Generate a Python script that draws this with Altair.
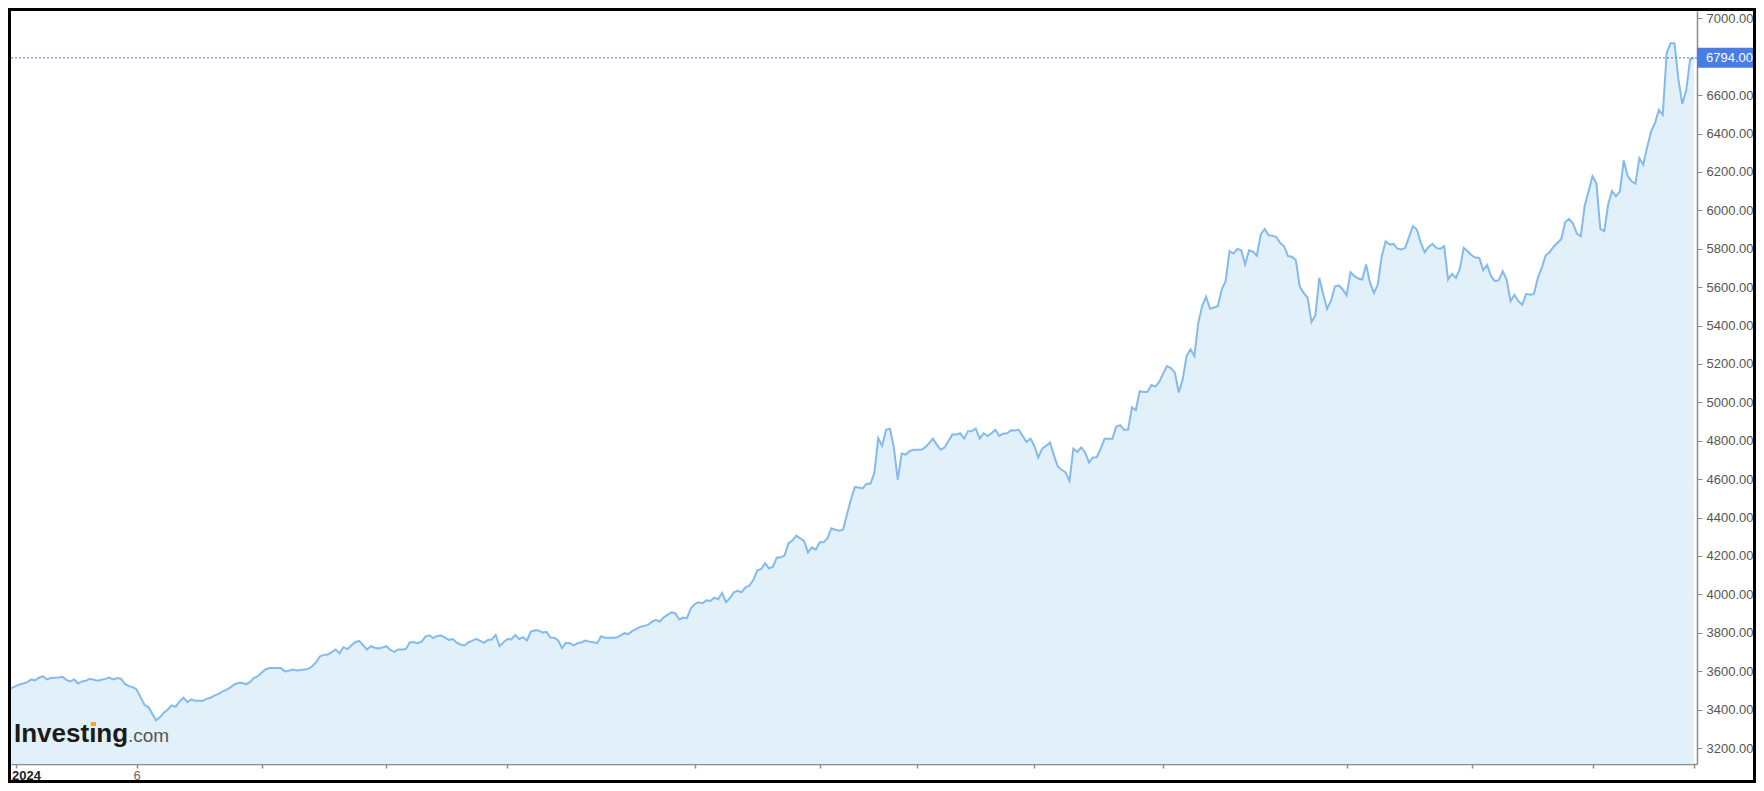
import altair as alt
import pandas as pd

# ---- data (one value per trading step) ----
seg1 = [3521, 3517, 3514, 3512, 3522, 3531, 3536, 3543, 3557, 3552,
        3566, 3574, 3557, 3564, 3566, 3567, 3571, 3555, 3547, 3557,
        3536, 3547, 3550, 3560, 3555, 3550, 3555, 3560, 3567, 3557,
        3564, 3560, 3534, 3522, 3517, 3505, 3465, 3425, 3413, 3379,
        3344, 3361, 3384, 3401, 3422, 3415, 3443, 3462, 3439, 3453,
        3446, 3446, 3446, 3457, 3462, 3474, 3482, 3495, 3503, 3515,
        3531, 3538, 3540, 3531, 3543, 3564, 3573, 3592, 3609, 3616,
        3616, 3616, 3616, 3599, 3602, 3609, 3604, 3606, 3609, 3612,
        3626, 3647, 3678, 3685, 3687, 3699]
seg2 = [3713, 3694, 3725, 3715, 3734, 3751, 3758, 3737, 3713, 3730,
        3722, 3718, 3723, 3730, 3711, 3701, 3713, 3713, 3715, 3751,
        3751, 3746, 3754, 3780, 3787, 3772, 3784, 3786, 3775, 3763,
        3767, 3748, 3739, 3734, 3751, 3758, 3768, 3758, 3748, 3763,
        3765, 3789, 3730, 3751, 3768, 3765, 3789, 3768, 3777, 3760,
        3806, 3813, 3812, 3801, 3805, 3775, 3774, 3760, 3720, 3748,
        3746, 3734, 3746, 3751, 3760, 3754, 3751, 3746, 3782, 3774,
        3774, 3774, 3775, 3786, 3798, 3793, 3810, 3819, 3831, 3836,
        3841, 3857, 3867, 3858, 3879, 3893, 3907]
seg3 = [3902, 3869, 3879, 3876, 3928, 3950, 3959, 3954, 3969, 3966,
        3983, 3975, 4008, 3959, 3980, 4011, 4018, 4011, 4037, 4046,
        4075, 4124, 4132, 4162, 4136, 4143, 4191, 4193, 4202, 4266,
        4280, 4306, 4292, 4278, 4219, 4245, 4233, 4271, 4271, 4292,
        4344, 4337, 4332, 4337, 4418, 4493, 4559, 4557, 4552, 4576,
        4576, 4631, 4813, 4773, 4857, 4863, 4765, 4597, 4734, 4728,
        4746, 4753, 4753, 4753, 4765, 4786, 4811, 4780, 4753, 4765,
        4799, 4832, 4832, 4839, 4811, 4850, 4851, 4863, 4811, 4839,
        4825, 4839, 4857, 4825, 4837, 4839, 4855]
seg4 = [4853, 4857, 4825, 4794, 4811, 4773, 4713, 4759, 4773, 4791,
        4725, 4666, 4649, 4635, 4591, 4759, 4742, 4765, 4739, 4687,
        4713, 4714, 4759, 4811, 4811, 4811, 4874, 4881, 4857, 4857,
        4974, 4960, 5058, 5054, 5054, 5090, 5082, 5106, 5151, 5189,
        5179, 5155, 5051, 5120, 5241, 5276, 5241, 5414, 5501, 5550,
        5487, 5494, 5501, 5588, 5631, 5787, 5775, 5799, 5792, 5718,
        5792, 5785, 5764, 5874, 5903, 5870, 5868, 5861, 5830, 5813,
        5761, 5758, 5740, 5602, 5570, 5546, 5418, 5453, 5648, 5563,
        5487, 5529, 5603, 5609, 5588, 5557, 5678, 5657, 5645]
seg5 = [5640, 5718, 5622, 5570, 5614, 5761, 5839, 5822, 5825, 5801,
        5796, 5804, 5862, 5917, 5900, 5830, 5782, 5809, 5825, 5804,
        5799, 5813, 5640, 5669, 5648, 5695, 5804, 5787, 5766, 5754,
        5752, 5688, 5716, 5657, 5631, 5636, 5683, 5640, 5527, 5560,
        5527, 5508, 5565, 5560, 5565, 5648, 5700, 5765, 5782, 5809,
        5830, 5851, 5939, 5955, 5931, 5879, 5865, 6024, 6099, 6177,
        6139, 5903, 5891, 6030, 6101, 6073, 6097, 6260, 6180, 6151,
        6139, 6272, 6237, 6329, 6411, 6454, 6523, 6497, 6818, 6870,
        6870, 6683, 6555, 6624, 6787, 6794]

tick_idx = [4, 35, 67, 99, 130, 178, 210, 235, 265, 298, 345, 377, 408, 434]
tick_labels = ["2024", "6", "", "", "", "", "", "", "", "", "", "", "", ""]
y_ticks = [3200, 3400, 3600, 3800, 4000, 4200, 4400, 4600, 4800, 5000,
           5200, 5400, 5600, 5800, 6000, 6200, 6400, 6600, 7000]
last_value = 6794.0

price = seg1 + seg2 + seg3 + seg4 + seg5
df = pd.DataFrame({"i": list(range(len(price))), "price": price})
one = pd.DataFrame({"a": [0]})

W, H = 1686, 753
PAD = {"left": 3, "top": 3, "right": 59, "bottom": 19}
FONT = "Liberation Sans"
LINE = "#84baee"
FILL = "#e1f0f9"
BLUE = "#4a7ce6"
AXIS = "#8c8c8c"

x_scale = alt.Scale(domain=[2.818, 434.77], nice=False, zero=False)
y_scale = alt.Scale(domain=[3116.7, 7038.0], nice=False, zero=False)

expr_parts = [f"datum.value == {v} ? '{t}'" for v, t in zip(tick_idx, tick_labels) if t]
label_expr = " : ".join(expr_parts) + " : ''"
first = f"datum.value == {tick_idx[0]}"

x_axis = alt.Axis(
    values=tick_idx, labelExpr=label_expr, title="", grid=False,
    domainColor=AXIS, domainWidth=1.5, tickColor=AXIS, tickSize=4, tickWidth=1.5,
    labelFont=FONT, labelFontSize=13, labelPadding=1, labelFlush=False,
    labelOverlap=False,
    labelAlign={"condition": {"test": first, "value": "left"}, "value": "center"},
    labelOffset={"condition": {"test": first, "value": -4}, "value": 0},
    labelColor={"condition": {"test": first, "value": "#222222"}, "value": "#666666"},
    labelFontWeight={"condition": {"test": first, "value": "bold"}, "value": "normal"},
)
y_axis = alt.Axis(
    orient="right", values=y_ticks, format=".2f", title="", grid=False,
    domainColor=AXIS, domainWidth=1.5, tickColor=AXIS, tickSize=5,
    labelFont=FONT, labelFontSize=13, labelColor="#555555", labelPadding=4,
    labelFlush=False, labelOverlap=False,
)

area = alt.Chart(df).mark_area(color=FILL, clip=True).encode(
    x=alt.X("i:Q", scale=x_scale, axis=x_axis),
    y=alt.Y("price:Q", scale=y_scale, axis=y_axis),
)
line = alt.Chart(df).mark_line(color=LINE, strokeWidth=2, clip=True).encode(
    x="i:Q", y="price:Q"
)
rule = alt.Chart(one).mark_rule(color=BLUE, strokeDash=[2, 2], strokeWidth=1).encode(
    y=alt.datum(last_value)
)
box = alt.Chart(one).mark_rect(color=BLUE, clip=False).encode(
    x=alt.value(W), x2=alt.value(W + 56),
    y=alt.datum(last_value + 52), y2=alt.datum(last_value - 52),
)
box_text = alt.Chart(one).mark_text(
    text=f"{last_value:.2f}", color="white", font=FONT, fontSize=13,
    align="left", baseline="middle", clip=False,
).encode(x=alt.value(W + 9), y=alt.datum(last_value))

logo1 = alt.Chart(one).mark_text(
    text="Investing", font=FONT, fontSize=26, fontWeight="bold", color="#1b1b1b",
    align="left", baseline="alphabetic",
).encode(x=alt.value(3), y=alt.value(731))
logo2 = alt.Chart(one).mark_text(
    text=".com", font=FONT, fontSize=19, color="#555555",
    align="left", baseline="alphabetic",
).encode(x=alt.value(117), y=alt.value(731))
logo_dot = alt.Chart(one).mark_rect(color="#f5a623").encode(
    x=alt.value(80), x2=alt.value(85), y=alt.value(711), y2=alt.value(715)
)

frame = alt.Chart(one).mark_rect(filled=False, stroke="black", strokeWidth=3, clip=False).encode(
    x=alt.value(-1.5), x2=alt.value(W + PAD["right"] - 1.5),
    y=alt.value(-1.5), y2=alt.value(H + PAD["bottom"] - 1.5),
)

chart = alt.layer(area, line, rule, box, box_text, logo1, logo2, logo_dot, frame).properties(
    width=W, height=H,
    autosize=alt.AutoSizeParams(type="none"),
    padding=PAD,
    background="white",
).configure_view(strokeOpacity=0)

chart.save("out.html", embed_options={"renderer": "svg", "actions": False})
